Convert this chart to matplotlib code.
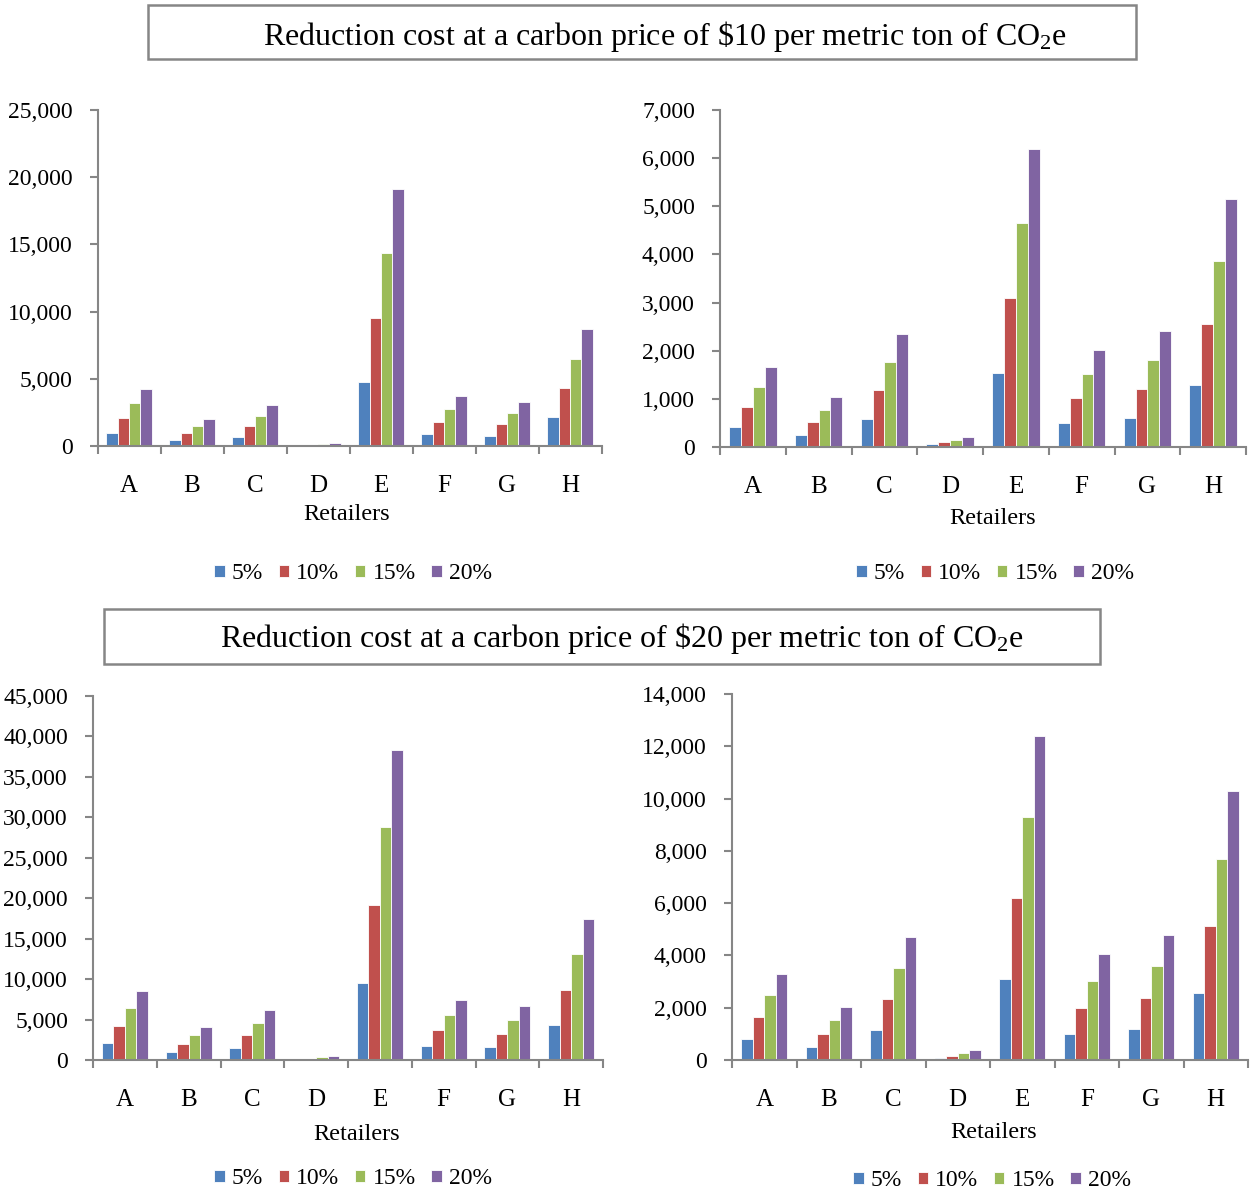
import matplotlib
matplotlib.use("Agg")
import matplotlib.pyplot as plt
from matplotlib.patches import Rectangle
import numpy as np

plt.rcParams['font.family'] = ['Liberation Serif', 'DejaVu Serif']
plt.rcParams['mathtext.fontset'] = 'custom'
plt.rcParams['mathtext.rm'] = 'Liberation Serif'
plt.rcParams['mathtext.it'] = 'Liberation Serif:italic'

retailers = ['A', 'B', 'C', 'D', 'E', 'F', 'G', 'H']
series_labels = ['5%', '10%', '15%', '20%']
colors = ['#4F81BD', '#C0504D', '#9BBB59', '#8064A2']

# $10 carbon price, left panel
p10_left_5 = [1000, 450, 700, 10, 4750, 900, 780, 2150]
p10_left_10 = [2100, 1000, 1500, 100, 9550, 1820, 1620, 4330]
p10_left_15 = [3180, 1520, 2260, 170, 14330, 2760, 2440, 6510]
p10_left_20 = [4250, 2040, 3080, 200, 19130, 3700, 3280, 8700]
# $10 carbon price, right panel
p10_right_5 = [410, 256, 590, 55, 1546, 506, 596, 1282]
p10_right_10 = [832, 513, 1178, 104, 3098, 1012, 1199, 2565]
p10_right_15 = [1248, 776, 1767, 152, 4644, 1518, 1802, 3854]
p10_right_20 = [1663, 1033, 2357, 201, 6196, 2024, 2405, 5143]
# $20 carbon price, left panel
p20_left_5 = [2110, 1000, 1490, 20, 9510, 1780, 1610, 4340]
p20_left_10 = [4260, 2030, 3060, 170, 19150, 3720, 3270, 8690]
p20_left_15 = [6410, 3100, 4630, 330, 28790, 5580, 4920, 13070]
p20_left_20 = [8560, 4140, 6200, 455, 38380, 7445, 6620, 17450]
# $20 carbon price, right panel
p20_right_5 = [803, 484, 1147, 64, 3083, 981, 1172, 2548]
p20_right_10 = [1631, 1006, 2331, 166, 6179, 2000, 2370, 5121]
p20_right_15 = [2472, 1516, 3516, 280, 9300, 3019, 3580, 7695]
p20_right_20 = [3300, 2038, 4701, 382, 12409, 4039, 4790, 10281]

W, H = 1257, 1192
fig = plt.figure(figsize=(W / 100, H / 100), dpi=100)

def px_axes(x0, x1, y0, y1):
    return fig.add_axes([x0 / W, 1 - y1 / H, (x1 - x0) / W, (y1 - y0) / H])

gray = '#868686'

def panel(box, data, ymax, ystep, legend_xy, xlabel_pad, xlabel_x):
    ax = px_axes(*box)
    n = len(retailers)
    x = np.arange(n)
    bw = 0.18
    for i, vals in enumerate(data):
        ax.bar(x + (i - 1.5) * bw, vals, width=bw, color=colors[i],
               edgecolor='white', linewidth=0.6, label=series_labels[i], zorder=2)
    ax.set_xlim(-0.5, n - 0.5)
    ax.set_ylim(0, ymax)
    ticks = np.arange(0, ymax + 1, ystep)
    ax.set_yticks(ticks)
    ax.set_yticklabels([f"{int(v):,}" for v in ticks])
    ax.set_xticks(x)
    ax.set_xticklabels(retailers)
    ax.set_xticks(np.arange(-0.5, n, 1.0), minor=True)
    ax.tick_params(axis='x', which='major', length=0, pad=21, labelsize=18)
    ax.tick_params(axis='x', which='minor', length=6, width=1.5, color=gray, direction='out')
    ax.tick_params(axis='y', which='major', length=6, width=1.5, color=gray,
                   direction='out', labelsize=17, pad=12)
    for s in ['top', 'right']:
        ax.spines[s].set_visible(False)
    for s in ['left', 'bottom']:
        ax.spines[s].set_color(gray)
        ax.spines[s].set_linewidth(1.5)
    ax.set_xlabel('Retailers', fontsize=17.5, labelpad=xlabel_pad)
    ax.xaxis.label.set_x(xlabel_x)
    handles, labels = ax.get_legend_handles_labels()
    fig.legend(handles, labels, loc='center', ncol=4, frameon=False,
               bbox_to_anchor=(legend_xy[0] / W, 1 - legend_xy[1] / H),
               fontsize=17, handlelength=0.45, handleheight=0.45,
               handletextpad=0.3, columnspacing=0.65)
    return ax

panel((97.5, 601.5, 110, 446), [p10_left_5, p10_left_10, p10_left_15, p10_left_20],
      25000, 5000, (353, 574), 5, 0.495)
panel((720, 1246, 110, 447), [p10_right_5, p10_right_10, p10_right_15, p10_right_20],
      7000, 1000, (995, 574), 7, 0.519)
panel((93, 603, 696, 1060), [p20_left_5, p20_left_10, p20_left_15, p20_left_20],
      45000, 5000, (353, 1179), 9, 0.516)
panel((732, 1248, 694, 1060), [p20_right_5, p20_right_10, p20_right_15, p20_right_20],
      14000, 2000, (992, 1181), 7.5, 0.506)

def title_box(x0, x1, y0, y1, tx, ty, text):
    r = Rectangle((x0 / W, 1 - y1 / H), (x1 - x0) / W, (y1 - y0) / H,
                  transform=fig.transFigure, fill=False, edgecolor=gray, linewidth=1.8)
    fig.add_artist(r)
    fig.text(tx / W, 1 - ty / H, text, ha='center', va='center', fontsize=23)

title_box(148, 1136, 5, 59, 665, 36,
          r"Reduction cost at a carbon price of \$10 per metric ton of CO$_2$e")
title_box(104, 1100, 609, 664, 622, 639,
          r"Reduction cost at a carbon price of \$20 per metric ton of CO$_2$e")

fig.savefig('out.png', dpi=100)
